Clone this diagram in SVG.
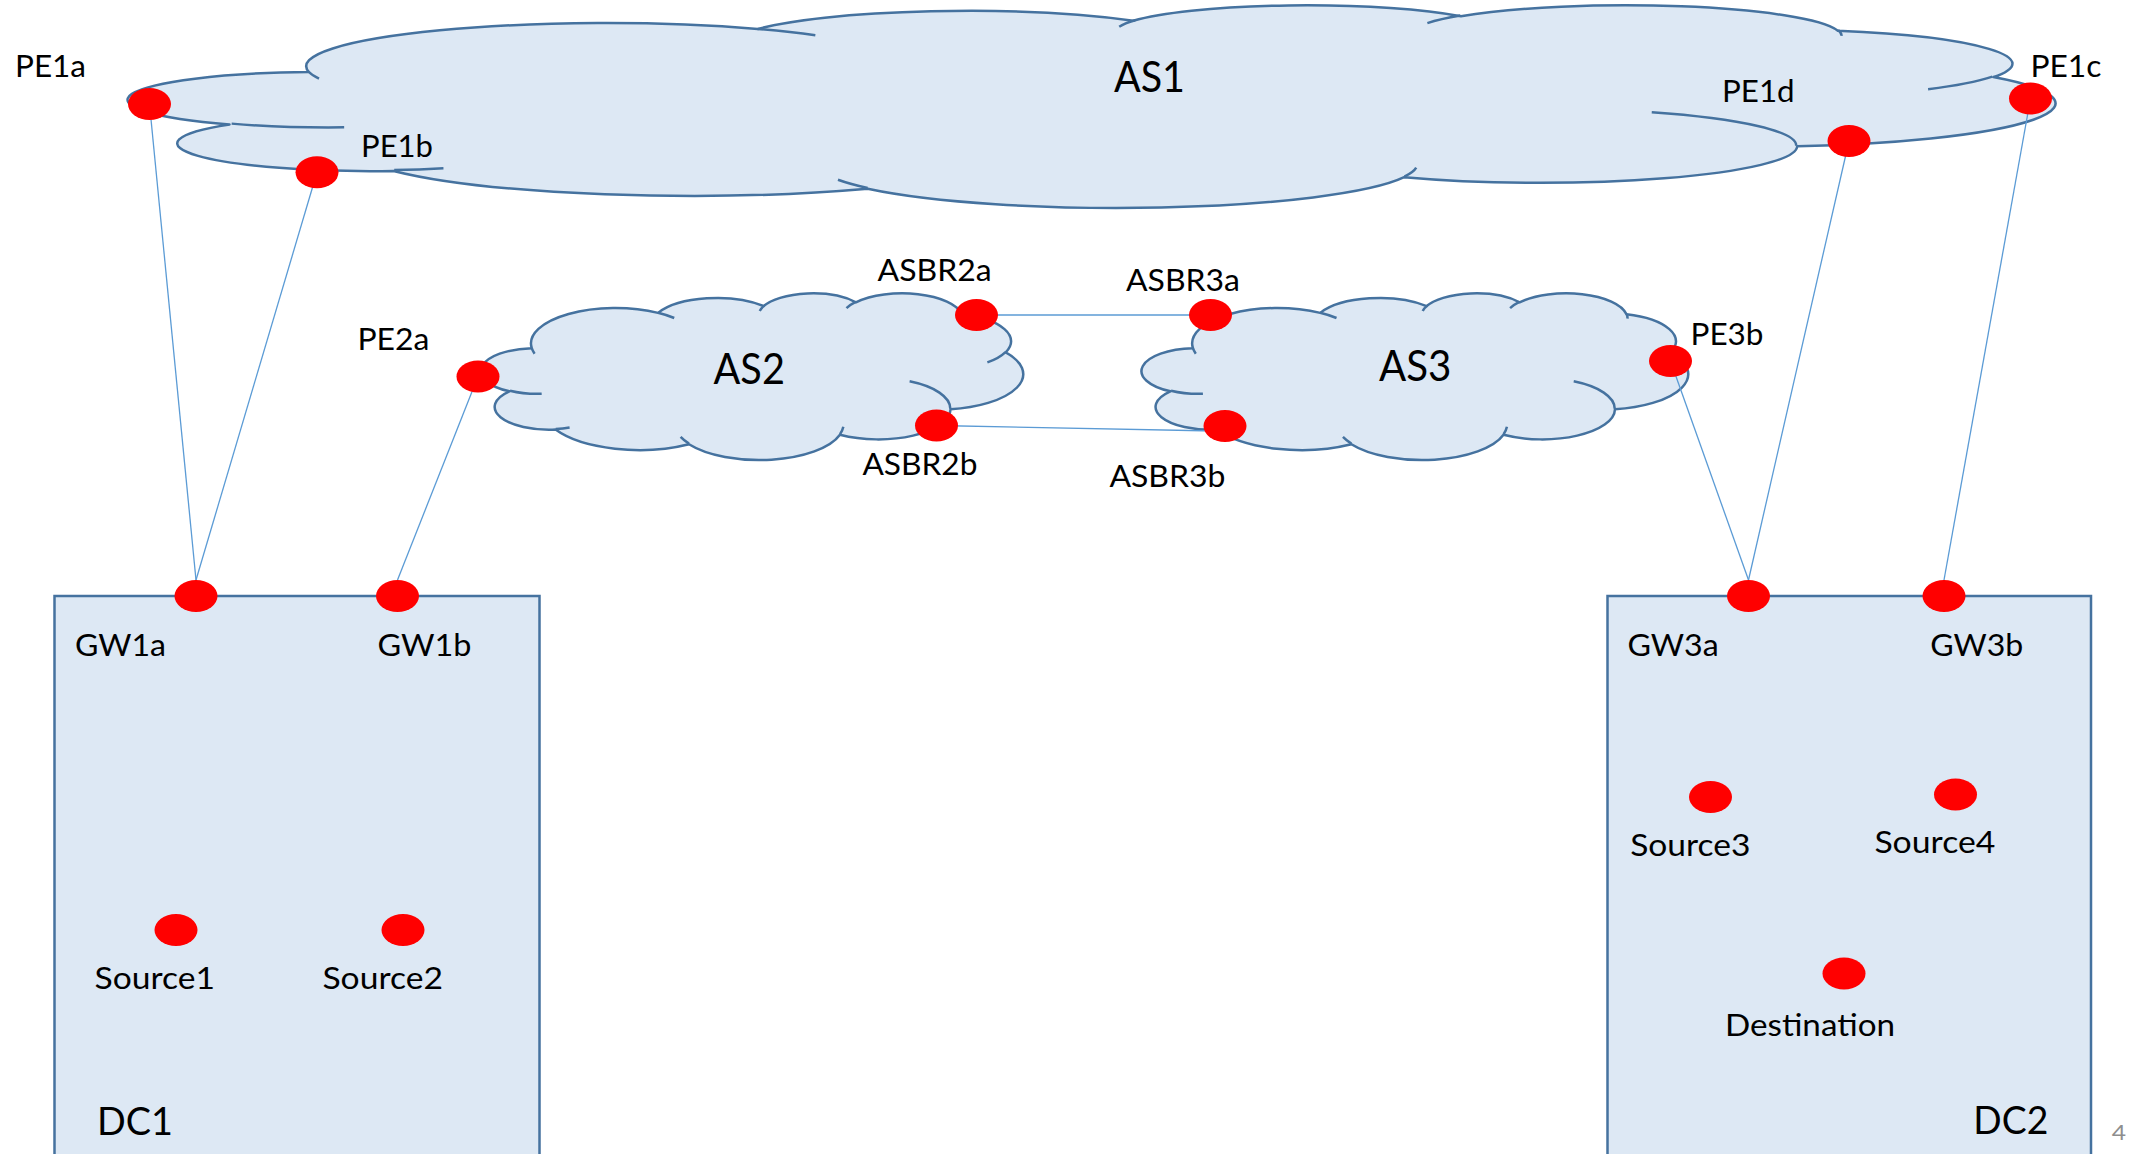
<svg xmlns="http://www.w3.org/2000/svg" xmlns:xlink="http://www.w3.org/1999/xlink" width="2131" height="1154" viewBox="0 0 2131 1154">
  <style>
    .cloud { fill: #dde8f4; stroke: #45729f; stroke-width: 2.5; stroke-linejoin: round; vector-effect: non-scaling-stroke; }
    .crease { fill: none; stroke: #45729f; stroke-width: 2.5; stroke-linecap: butt; vector-effect: non-scaling-stroke; }
    .dc { fill: #dde8f4; stroke: #45729f; stroke-width: 2.5; }
    .link { stroke: #5b9bd5; stroke-width: 1.3; fill: none; }
    .dot { fill: #ff0000; }
    text { font-family: Lato, "Liberation Sans", sans-serif; fill: #000; }
    .lbl { font-size: 30px; }
    .big { font-size: 42px; }
    .host { font-size: 31px; }
    .dcname { font-size: 39px; }
    .pg { font-size: 21px; fill: #8e8e8e; }
  </style>
  <defs>
    <!-- cloud outline in a 43200 x 43200 box -->
    <path id="cloudShape" class="cloud" d="M3900 14370 A6753 9190 0 0 1 14005 5202 A5333 7267 0 0 1 22456 3431 A4365 5945 0 0 1 29833 2480 A4857 6595 0 0 1 38318 5575 A5333 7273 0 0 1 41818 15459 A6775 9220 0 0 1 37404 30202 A5785 7867 0 0 1 28556 36812 A6752 9215 0 0 1 16480 39263 A7720 10543 0 0 1 5804 35469 A4360 5918 0 0 1 2112 25547 A4345 5945 0 0 1 3900 14370 Z"/>
    <!-- inner crease arcs of the cloud -->
    <path id="cloudCreases" class="crease" d="M4693 26177 A4345 5945 0 0 1 2160 25380 M6928 34899 A4360 5918 0 0 1 5819 35281 M16478 39090 A6752 9215 0 0 1 15810 37350 M28827 34751 A6752 9215 0 0 1 28560 36660 M34129 22954 A5785 7867 0 0 1 37381 30090 M41798 15354 A5333 7273 0 0 1 40350 18030 M38324 5426 A4857 6595 0 0 1 38400 6690 M29078 3952 A4857 6595 0 0 1 29820 2340 M22141 4720 A4365 5945 0 0 1 22500 3330 M14000 5192 A6753 9190 0 0 1 15300 6540 M4127 15789 A6753 9190 0 0 1 3900 14370"/>
  </defs>

  <!-- autonomous systems -->
  <g id="AS1">
    <g transform="translate(135.7 4.6) scale(0.044421 0.0046898)">
      <use xlink:href="#cloudShape"/>
      <use xlink:href="#cloudCreases"/>
    </g>
    <text class="big" x="1114" y="91.7" textLength="71" lengthAdjust="spacingAndGlyphs">AS1</text>
  </g>
  <g id="AS2">
    <g transform="translate(483 292.8) scale(0.0125 0.003857)">
      <use xlink:href="#cloudShape"/>
      <use xlink:href="#cloudCreases"/>
    </g>
    <text class="big" x="713.5" y="384" textLength="71.4" lengthAdjust="spacingAndGlyphs">AS2</text>
  </g>
  <g id="AS3">
    <g transform="translate(1143.8 292.8) scale(0.012597 0.003857)">
      <use xlink:href="#cloudShape"/>
      <use xlink:href="#cloudCreases"/>
    </g>
    <text class="big" x="1379" y="380.7" textLength="72.4" lengthAdjust="spacingAndGlyphs">AS3</text>
  </g>

  <!-- data centres -->
  <g id="DC1">
    <rect class="dc" x="54.5" y="596" width="485" height="570"/>
    <text class="dcname" x="97" y="1135" textLength="76" lengthAdjust="spacingAndGlyphs">DC1</text>
  </g>
  <g id="DC2">
    <rect class="dc" x="1607.5" y="596" width="483.5" height="570"/>
    <text class="dcname" x="1973.3" y="1134" textLength="75" lengthAdjust="spacingAndGlyphs">DC2</text>
  </g>

  <!-- links -->
  <g id="links">
    <line class="link" x1="149.5" y1="104" x2="196" y2="580"/>
    <line class="link" x1="317" y1="172.3" x2="196" y2="580"/>
    <line class="link" x1="478" y1="376.5" x2="397.5" y2="580"/>
    <line class="link" x1="976.5" y1="315" x2="1210.5" y2="315"/>
    <line class="link" x1="936.5" y1="425.5" x2="1215" y2="431"/>
    <line class="link" x1="1670.5" y1="361" x2="1748.5" y2="580"/>
    <line class="link" x1="1849" y1="141" x2="1748.5" y2="580"/>
    <line class="link" x1="2030.5" y1="98.5" x2="1944" y2="580"/>
  </g>

  <!-- routers and hosts -->
  <g id="PE1a">
    <ellipse class="dot" cx="149.5" cy="104" rx="21.5" ry="16"/>
    <text class="lbl" x="15" y="76.7" textLength="71" lengthAdjust="spacingAndGlyphs">PE1a</text>
  </g>
  <g id="PE1b">
    <ellipse class="dot" cx="317" cy="172.3" rx="21.5" ry="16"/>
    <text class="lbl" x="361" y="156.7" textLength="72" lengthAdjust="spacingAndGlyphs">PE1b</text>
  </g>
  <g id="PE1d">
    <ellipse class="dot" cx="1849" cy="141" rx="21.5" ry="16"/>
    <text class="lbl" x="1722" y="101.7" textLength="72.6" lengthAdjust="spacingAndGlyphs">PE1d</text>
  </g>
  <g id="PE1c">
    <ellipse class="dot" cx="2030.5" cy="98.5" rx="21.5" ry="16"/>
    <text class="lbl" x="2030.4" y="77.3" textLength="71" lengthAdjust="spacingAndGlyphs">PE1c</text>
  </g>
  <g id="PE2a">
    <ellipse class="dot" cx="478" cy="376.5" rx="21.5" ry="16"/>
    <text class="lbl" x="357.4" y="350" textLength="72" lengthAdjust="spacingAndGlyphs">PE2a</text>
  </g>
  <g id="ASBR2a">
    <ellipse class="dot" cx="976.5" cy="315" rx="21.5" ry="16"/>
    <text class="lbl" x="877.6" y="280.7" textLength="114" lengthAdjust="spacingAndGlyphs">ASBR2a</text>
  </g>
  <g id="ASBR2b">
    <ellipse class="dot" cx="936.5" cy="425.5" rx="21.5" ry="16"/>
    <text class="lbl" x="862.4" y="475" textLength="115" lengthAdjust="spacingAndGlyphs">ASBR2b</text>
  </g>
  <g id="ASBR3a">
    <ellipse class="dot" cx="1210.5" cy="315" rx="21.5" ry="16"/>
    <text class="lbl" x="1126" y="290.7" textLength="114" lengthAdjust="spacingAndGlyphs">ASBR3a</text>
  </g>
  <g id="ASBR3b">
    <ellipse class="dot" cx="1225" cy="426" rx="21.5" ry="16"/>
    <text class="lbl" x="1109.4" y="486.7" textLength="116" lengthAdjust="spacingAndGlyphs">ASBR3b</text>
  </g>
  <g id="PE3b">
    <ellipse class="dot" cx="1670.5" cy="361" rx="21.5" ry="16"/>
    <text class="lbl" x="1690.5" y="345" textLength="73" lengthAdjust="spacingAndGlyphs">PE3b</text>
  </g>
  <g id="GW1a">
    <ellipse class="dot" cx="196" cy="596" rx="21.5" ry="16"/>
    <text class="host" x="75" y="656" textLength="91" lengthAdjust="spacingAndGlyphs">GW1a</text>
  </g>
  <g id="GW1b">
    <ellipse class="dot" cx="397.5" cy="596" rx="21.5" ry="16"/>
    <text class="host" x="377.5" y="656" textLength="94" lengthAdjust="spacingAndGlyphs">GW1b</text>
  </g>
  <g id="GW3a">
    <ellipse class="dot" cx="1748.5" cy="596" rx="21.5" ry="16"/>
    <text class="host" x="1627.4" y="656" textLength="91.4" lengthAdjust="spacingAndGlyphs">GW3a</text>
  </g>
  <g id="GW3b">
    <ellipse class="dot" cx="1944" cy="596" rx="21.5" ry="16"/>
    <text class="host" x="1930.3" y="656" textLength="93" lengthAdjust="spacingAndGlyphs">GW3b</text>
  </g>
  <g id="Source1">
    <ellipse class="dot" cx="176" cy="930" rx="21.5" ry="16"/>
    <text class="host" x="94.6" y="989" textLength="120.4" lengthAdjust="spacingAndGlyphs">Source1</text>
  </g>
  <g id="Source2">
    <ellipse class="dot" cx="403" cy="930" rx="21.5" ry="16"/>
    <text class="host" x="322.5" y="989" textLength="120.4" lengthAdjust="spacingAndGlyphs">Source2</text>
  </g>
  <g id="Source3">
    <ellipse class="dot" cx="1710.5" cy="797" rx="21.5" ry="16"/>
    <text class="host" x="1630.2" y="855.5" textLength="120.2" lengthAdjust="spacingAndGlyphs">Source3</text>
  </g>
  <g id="Source4">
    <ellipse class="dot" cx="1955.5" cy="794.5" rx="21.5" ry="16"/>
    <text class="host" x="1874.4" y="852.8" textLength="121" lengthAdjust="spacingAndGlyphs">Source4</text>
  </g>
  <g id="Destination">
    <ellipse class="dot" cx="1844" cy="973.5" rx="21.5" ry="16"/>
    <text class="host" x="1725" y="1035.7" textLength="170" lengthAdjust="spacingAndGlyphs">Destination</text>
  </g>

  <!-- page number -->
  <text class="pg" x="2111.7" y="1140" textLength="14.3" lengthAdjust="spacingAndGlyphs">4</text>
</svg>
